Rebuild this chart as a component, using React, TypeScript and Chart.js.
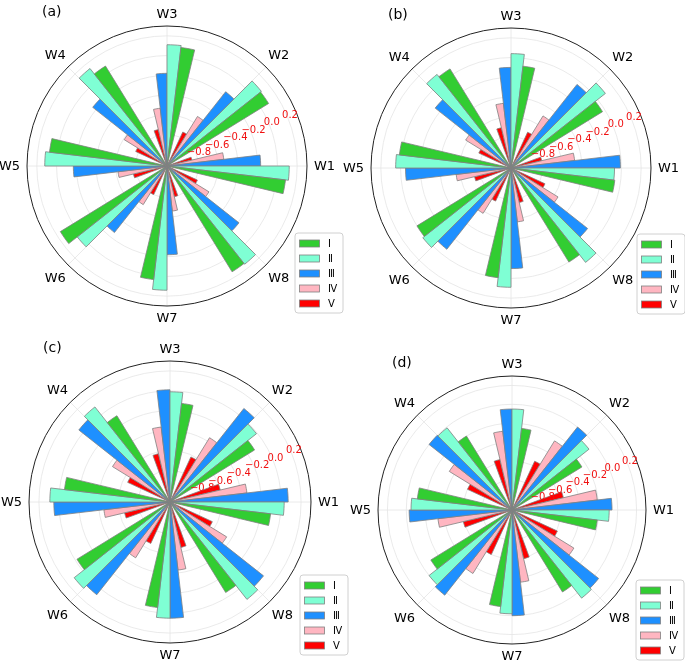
import React, { useEffect, useRef } from 'react';
import { Chart, registerables } from 'chart.js';

Chart.register(...registerables);

// ---------- data ----------
const DIRECTIONS = ['W1', 'W2', 'W3', 'W4', 'W5', 'W6', 'W7', 'W8'];
const SERIES = ['Ⅰ', 'Ⅱ', 'Ⅲ', 'Ⅳ', 'Ⅴ'];
const COLORS = ['#32cd32', '#7fffd4', '#1e90ff', '#ffb6c1', '#ff0000'];
const R_TICKS = [-0.8, -0.6, -0.4, -0.2, 0.0, 0.2];
const R_MIN = -1.12;
const R_MAX = 0.3;

// panel (a): values per direction W1..W8
const A_I = [0.09, 0.09, 0.09, 0.07, 0.08, 0.15, 0.04, 0.14];
const A_II = [0.12, 0.10, 0.11, 0.14, 0.12, 0.04, 0.14, 0.15];
const A_III = [-0.17, -0.16, -0.18, -0.16, -0.17, -0.26, -0.22, -0.19];
const A_IV = [-0.54, -0.53, -0.53, -0.61, -0.62, -0.66, -0.66, -0.62];
const A_V = [-0.86, -0.74, -0.74, -0.77, -0.77, -0.80, -0.80, -0.78];

// panel (b)
const B_I = [-0.06, -0.03, -0.08, 0.06, 0.02, 0.00, 0.00, 0.00];
const B_II = [-0.07, 0.10, 0.04, 0.09, 0.05, 0.02, 0.09, 0.10];
const B_III = [-0.01, -0.04, -0.10, -0.14, -0.05, -0.07, -0.10, -0.13];
const B_IV = [-0.47, -0.50, -0.46, -0.58, -0.56, -0.58, -0.57, -0.56];
const B_V = [-0.80, -0.72, -0.70, -0.76, -0.74, -0.75, -0.76, -0.74];

// panel (c)
const C_I = [-0.10, -0.12, -0.12, -0.10, -0.05, -0.02, -0.05, -0.05];
const C_II = [0.03, -0.01, -0.01, 0.10, 0.09, 0.11, 0.05, 0.13];
const C_III = [0.07, 0.08, 0.01, 0.05, 0.05, 0.07, 0.05, 0.08];
const C_IV = [-0.34, -0.36, -0.36, -0.44, -0.45, -0.46, -0.43, -0.45];
const C_V = [-0.60, -0.62, -0.62, -0.65, -0.65, -0.66, -0.65, -0.65];

// panel (d)
const D_I = [-0.21, -0.25, -0.25, -0.20, -0.11, -0.11, -0.09, -0.10];
const D_II = [-0.09, -0.08, -0.05, -0.01, -0.05, 0.00, -0.02, 0.07];
const D_III = [-0.06, 0.00, -0.05, 0.00, -0.03, 0.03, 0.00, 0.05];
const D_IV = [-0.21, -0.26, -0.28, -0.34, -0.33, -0.33, -0.35, -0.35];
const D_V = [-0.56, -0.55, -0.57, -0.60, -0.59, -0.60, -0.59, -0.59];

// ---------- layout ----------
type Panel = {
  tag: string;
  series: number[][];
  left: number; top: number; width: number; height: number;
  cx: number; cy: number; R: number;
  legendX: number; legendY: number;
  tagX: number; tagY: number;
};

const PANELS: Panel[] = [
  { tag: '(a)', series: [A_I, A_II, A_III, A_IV, A_V], left: 0, top: 0, width: 360, height: 332,
    cx: 167, cy: 166, R: 140, legendX: 295, legendY: 233, tagX: 42, tagY: 12 },
  { tag: '(b)', series: [B_I, B_II, B_III, B_IV, B_V], left: 342, top: 0, width: 343, height: 332,
    cx: 511, cy: 168, R: 140, legendX: 637, legendY: 234, tagX: 388, tagY: 15 },
  { tag: '(c)', series: [C_I, C_II, C_III, C_IV, C_V], left: 0, top: 332, width: 360, height: 332,
    cx: 170, cy: 502, R: 141, legendX: 300, legendY: 575, tagX: 43, tagY: 348 },
  { tag: '(d)', series: [D_I, D_II, D_III, D_IV, D_V], left: 342, top: 332, width: 343, height: 332,
    cx: 512, cy: 510, R: 134, legendX: 636, legendY: 580, tagX: 392, tagY: 363 },
];

const GROUP_DEG = 360 / DIRECTIONS.length;
const BAR_DEG = 6.7; // angular width of one bar
const GAP_DEG = GROUP_DEG - SERIES.length * BAR_DEG;
const FONT = '"DejaVu Sans", sans-serif';

function fmtTick(v: number) {
  const s = Math.abs(v).toFixed(1);
  return v < -1e-9 ? '\u2212' + s : s;
}

function PolarPanel({ p }: { p: Panel }) {
  const ref = useRef<HTMLCanvasElement>(null);
  useEffect(() => {
    const canvas = ref.current!;
    const values: number[] = [];
    const bg: string[] = [];
    const bc: string[] = [];
    const bw: number[] = [];
    const ang: number[] = [];
    const labels: string[] = [];
    // clockwise order starting just above W1
    const order = [0, 7, 6, 5, 4, 3, 2, 1];
    for (const g of order) {
      for (let s = 4; s >= 0; s--) {
        values.push(p.series[s][g]);
        bg.push(COLORS[s]);
        bc.push('#808080');
        bw.push(0.8);
        ang.push(BAR_DEG);
        labels.push(DIRECTIONS[g] + ' ' + SERIES[s]);
      }
      values.push(R_MIN);
      bg.push('rgba(0,0,0,0)');
      bc.push('rgba(0,0,0,0)');
      bw.push(0);
      ang.push(GAP_DEG);
      labels.push('');
    }
    const padding = {
      left: p.cx - p.R - p.left,
      top: p.cy - p.R - p.top,
      right: p.left + p.width - (p.cx + p.R),
      bottom: p.top + p.height - (p.cy + p.R),
    };

    const decor = {
      id: 'decor',
      beforeDatasetsDraw(chart: any) {
        const s = chart.scales.r;
        const ctx = chart.ctx as CanvasRenderingContext2D;
        const cx = s.xCenter, cy = s.yCenter, R = s.drawingArea;
        ctx.save();
        ctx.strokeStyle = '#e4e4e4';
        ctx.lineWidth = 0.8;
        for (const v of R_TICKS) {
          const r = s.getDistanceFromCenterForValue(v);
          ctx.beginPath();
          ctx.arc(cx, cy, r, 0, Math.PI * 2);
          ctx.stroke();
        }
        for (let k = 0; k < DIRECTIONS.length; k++) {
          const th = (k * Math.PI) / 4;
          ctx.beginPath();
          ctx.moveTo(cx, cy);
          ctx.lineTo(cx + R * Math.cos(th), cy - R * Math.sin(th));
          ctx.stroke();
        }
        ctx.restore();
      },
      afterDatasetsDraw(chart: any) {
        const s = chart.scales.r;
        const ctx = chart.ctx as CanvasRenderingContext2D;
        const cx = s.xCenter, cy = s.yCenter, R = s.drawingArea;
        ctx.save();
        // outer frame
        ctx.strokeStyle = '#222';
        ctx.lineWidth = 1;
        ctx.beginPath();
        ctx.arc(cx, cy, R, 0, Math.PI * 2);
        ctx.stroke();
        // radial tick labels
        ctx.fillStyle = '#f01010';
        ctx.font = '10px ' + FONT;
        ctx.textAlign = 'center';
        ctx.textBaseline = 'middle';
        const la = (22.5 * Math.PI) / 180;
        for (const v of R_TICKS) {
          const r = s.getDistanceFromCenterForValue(v) + 3;
          ctx.fillText(fmtTick(v), cx + r * Math.cos(la), cy - r * Math.sin(la));
        }
        // direction labels
        ctx.fillStyle = '#000';
        ctx.font = '13px ' + FONT;
        for (let k = 0; k < DIRECTIONS.length; k++) {
          const th = (k * Math.PI) / 4;
          const w = ctx.measureText(DIRECTIONS[k]).width;
          const h = 10;
          const d = R + 7 + Math.abs(Math.cos(th)) * w / 2 + Math.abs(Math.sin(th)) * h / 2;
          ctx.fillText(DIRECTIONS[k], cx + d * Math.cos(th), cy - d * Math.sin(th) + 1);
        }
        // panel tag
        ctx.textAlign = 'left';
        ctx.font = '14px ' + FONT;
        ctx.fillText(p.tag, p.tagX - p.left, p.tagY - p.top);
        // legend
        const lx = p.legendX - p.left, ly = p.legendY - p.top;
        const lw = 48, lh = 80, rr = 3;
        ctx.beginPath();
        ctx.moveTo(lx + rr, ly);
        ctx.lineTo(lx + lw - rr, ly);
        ctx.arcTo(lx + lw, ly, lx + lw, ly + rr, rr);
        ctx.lineTo(lx + lw, ly + lh - rr);
        ctx.arcTo(lx + lw, ly + lh, lx + lw - rr, ly + lh, rr);
        ctx.lineTo(lx + rr, ly + lh);
        ctx.arcTo(lx, ly + lh, lx, ly + lh - rr, rr);
        ctx.lineTo(lx, ly + rr);
        ctx.arcTo(lx, ly, lx + rr, ly, rr);
        ctx.closePath();
        ctx.fillStyle = 'rgba(255,255,255,0.85)';
        ctx.fill();
        ctx.strokeStyle = '#d0d0d0';
        ctx.lineWidth = 1;
        ctx.stroke();
        ctx.font = '10px ' + FONT;
        ctx.textBaseline = 'middle';
        for (let i = 0; i < SERIES.length; i++) {
          const yc = ly + 10.5 + i * 15;
          ctx.fillStyle = COLORS[i];
          ctx.fillRect(lx + 4.5, yc - 3.5, 20, 7);
          ctx.strokeStyle = '#808080';
          ctx.lineWidth = 0.8;
          ctx.strokeRect(lx + 4.5, yc - 3.5, 20, 7);
          ctx.fillStyle = '#000';
          ctx.fillText(SERIES[i], lx + 33, yc + 0.5);
        }
        ctx.restore();
      },
    };

    const chart = new Chart(canvas, {
      type: 'polarArea',
      data: {
        labels,
        datasets: [{ data: values, backgroundColor: bg, borderColor: bc, borderWidth: bw, angle: ang }],
      },
      options: {
        responsive: false,
        animation: false,
        devicePixelRatio: 1,
        layout: { padding },
        plugins: { legend: { display: false }, tooltip: { enabled: false } },
        scales: {
          r: {
            min: R_MIN,
            max: R_MAX,
            beginAtZero: false,
            startAngle: 90 - 3 * BAR_DEG,
            grid: { display: false },
            angleLines: { display: false },
            ticks: { display: false },
            pointLabels: { display: false },
          },
        },
      } as any,
      plugins: [decor],
    });
    return () => chart.destroy();
  }, [p]);
  return (
    <canvas
      ref={ref}
      width={p.width}
      height={p.height}
      style={{ position: 'absolute', left: p.left, top: p.top }}
    />
  );
}

export default function App() {
  return (
    <div style={{ position: 'absolute', left: 0, top: 0, width: 685, height: 664, background: '#fff', overflow: 'hidden' }}>
      {PANELS.map((p) => (
        <PolarPanel key={p.tag} p={p} />
      ))}
    </div>
  );
}
